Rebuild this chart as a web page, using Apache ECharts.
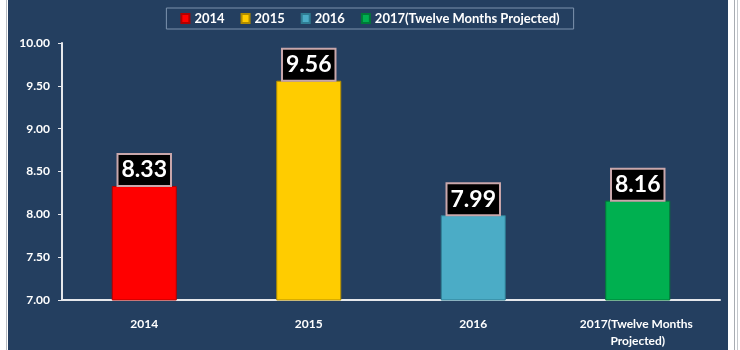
<!DOCTYPE html>
<html>
<head>
<meta charset="utf-8">
<script src="https://cdn.jsdelivr.net/npm/echarts@6/dist/echarts.min.js"></script>
<style>
  html, body { margin: 0; padding: 0; background: #ffffff; overflow: hidden; }
  #frame { position: relative; width: 740px; height: 350px; overflow: hidden; }
  #panel { position: absolute; left: 8px; top: 0; width: 720px; height: 350px; background: #243f60; }
  #edgeL { position: absolute; left: 6px; top: 0; width: 1px; height: 350px; background: #b8bcc2; }
  #edgeR1 { position: absolute; left: 734px; top: 0; width: 1px; height: 350px; background: #a8acb2; }
  #edgeR2 { position: absolute; left: 737px; top: 0; width: 1px; height: 350px; background: #c4c8cc; }
  #chart { position: absolute; left: 0; top: 0; width: 740px; height: 350px; }
</style>
</head>
<body>
<div id="frame">
  <div id="panel"></div>
  <div id="edgeL"></div>
  <div id="edgeR1"></div>
  <div id="edgeR2"></div>
  <div id="chart"></div>
</div>
<script>
// Yearly values, one bar per year
const categories = ['2014', '2015', '2016', '2017(Twelve Months Projected)'];
const values = [8.33, 9.56, 7.99, 8.16];
const barColors = ['#ff0000', '#ffcc00', '#4bacc6', '#00b050'];
const edgeColors = ['#b00000', '#b08c00', '#2f7d93', '#007a37'];
const yTicks = { min: 7, max: 10, interval: 0.5 };

const chart = echarts.init(document.getElementById('chart'));

const series = categories.map((name, i) => ({
  name: name,
  type: 'bar',
  stack: 'one',
  barWidth: 65,
  data: categories.map((c, j) => (j === i ? values[i] : '-')),
  itemStyle: { color: barColors[i], borderColor: edgeColors[i], borderWidth: 1 },
  label: {
    show: true,
    position: 'top',
    distance: 1,
    formatter: p => p.value.toFixed(2),
    color: '#ffffff',
    fontFamily: 'Lato',
    fontWeight: 'bold',
    fontSize: 23,
    lineHeight: 24,
    backgroundColor: '#000000',
    borderColor: '#c9a7ab',
    borderWidth: 2,
    padding: [3, 3, 3, 3]
  }
}));

chart.setOption({
  backgroundColor: 'transparent',
  animation: false,
  grid: { left: 62, right: 20, top: 43, bottom: 43 },
  legend: {
    top: 8,
    left: 'center',
    itemWidth: 8,
    itemHeight: 9,
    itemGap: 16,
    padding: [4, 14, 4, 14],
    borderColor: '#7d93ad',
    borderWidth: 1,
    icon: 'rect',
    textStyle: { color: '#ffffff', fontFamily: 'Lato', fontWeight: 'bold', fontSize: 13 },
    data: categories
  },
  xAxis: {
    type: 'category',
    data: categories,
    axisLine: { lineStyle: { color: '#e6e8ec', width: 2 } },
    axisTick: { show: false },
    axisLabel: {
      color: '#ffffff',
      fontFamily: 'Lato',
      fontWeight: 'bold',
      fontSize: 12,
      lineHeight: 17,
      margin: 16,
      width: 125,
      overflow: 'break',
      interval: 0
    }
  },
  yAxis: {
    type: 'value',
    min: yTicks.min,
    max: yTicks.max,
    interval: yTicks.interval,
    splitLine: { show: false },
    axisLine: { show: true, lineStyle: { color: '#e6e8ec', width: 2 } },
    axisTick: { show: true, length: 4, lineStyle: { color: '#e6e8ec' } },
    axisLabel: {
      color: '#ffffff',
      fontFamily: 'Lato',
      fontWeight: 'bold',
      fontSize: 12,
      margin: 12,
      formatter: v => v.toFixed(2)
    }
  },
  series: series
});
</script>
</body>
</html>
